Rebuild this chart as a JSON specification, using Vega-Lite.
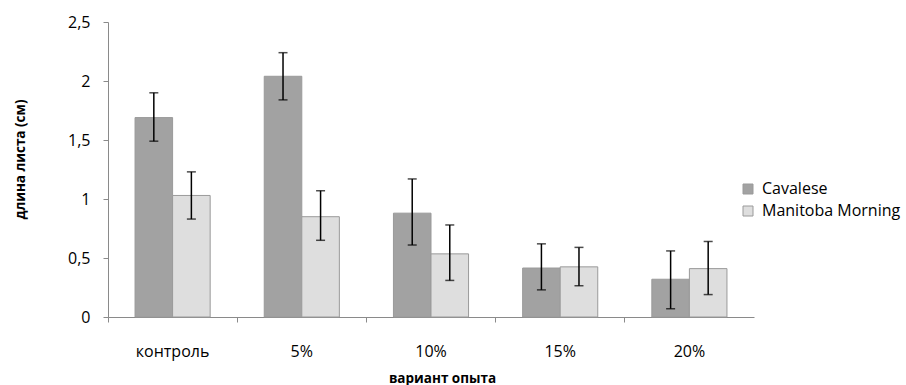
{
  "$schema": "https://vega.github.io/schema/vega-lite/v6.json",
  "width": 646,
  "height": 295,
  "autosize": {"type": "none"},
  "padding": {"left": 108, "top": 22, "right": 152, "bottom": 68},
  "background": "white",
  "config": {
    "view": {"stroke": null},
    "font": "Open Sans",
    "axis": {"labelFont": "Open Sans", "titleFont": "Open Sans", "labelColor": "#000000", "titleColor": "#000000", "domainColor": "#8a8a8a", "tickColor": "#8a8a8a", "grid": false}
  },
  "data": {
    "values": [
      {"variant": "контроль", "cultivar": "Cavalese", "mean": 1.69, "lower": 1.49, "upper": 1.9},
      {"variant": "контроль", "cultivar": "Manitoba Morning", "mean": 1.03, "lower": 0.83, "upper": 1.23},
      {"variant": "5%", "cultivar": "Cavalese", "mean": 2.04, "lower": 1.84, "upper": 2.24},
      {"variant": "5%", "cultivar": "Manitoba Morning", "mean": 0.85, "lower": 0.65, "upper": 1.07},
      {"variant": "10%", "cultivar": "Cavalese", "mean": 0.88, "lower": 0.61, "upper": 1.17},
      {"variant": "10%", "cultivar": "Manitoba Morning", "mean": 0.535, "lower": 0.31, "upper": 0.78},
      {"variant": "15%", "cultivar": "Cavalese", "mean": 0.415, "lower": 0.23, "upper": 0.62},
      {"variant": "15%", "cultivar": "Manitoba Morning", "mean": 0.425, "lower": 0.265, "upper": 0.59},
      {"variant": "20%", "cultivar": "Cavalese", "mean": 0.32, "lower": 0.07, "upper": 0.56},
      {"variant": "20%", "cultivar": "Manitoba Morning", "mean": 0.41, "lower": 0.19, "upper": 0.64}
    ]
  },
  "encoding": {
    "x": {
      "field": "variant",
      "type": "nominal",
      "sort": ["контроль", "5%", "10%", "15%", "20%"],
      "scale": {"paddingInner": 0, "paddingOuter": 0},
      "axis": {
        "title": "вариант опыта",
        "titleFontSize": 13.5,
        "titleFontWeight": "bold",
        "titleBaseline": "middle",
        "titleX": 334,
        "titleY": 61,
        "labelAngle": 0,
        "labelFontSize": 16,
        "labelPadding": 21,
        "tickSize": 5,
        "bandPosition": 0
      }
    },
    "xOffset": {
      "field": "cultivar",
      "type": "nominal",
      "sort": ["Cavalese", "Manitoba Morning"],
      "scale": {"paddingOuter": 0.72, "paddingInner": 0}
    }
  },
  "layer": [
    {
      "mark": {"type": "bar", "stroke": "#9a9a9a", "strokeWidth": 1},
      "encoding": {
        "y": {
          "field": "mean",
          "type": "quantitative",
          "scale": {"domain": [0, 2.5], "nice": false},
          "axis": {
            "title": "длина листа (см)",
            "titleFontSize": 13.5,
            "titleFontWeight": "bold",
            "titleBaseline": "middle",
            "titleAlign": "center",
            "titleX": -88,
            "titleY": 137,
            "values": [0, 0.5, 1, 1.5, 2, 2.5],
            "labelExpr": "replace(format(datum.value, '~g'), '.', ',')",
            "labelFontSize": 16,
            "labelPadding": 13,
            "tickSize": 5
          }
        },
        "color": {
          "field": "cultivar",
          "type": "nominal",
          "scale": {"domain": ["Cavalese", "Manitoba Morning"], "range": ["#a2a2a2", "#dedede"]},
          "legend": {
            "orient": "none",
            "legendX": 632,
            "legendY": 159,
            "title": null,
            "symbolType": "square",
            "symbolSize": 100,
            "symbolStrokeColor": "#9a9a9a",
            "symbolStrokeWidth": 1,
            "labelFont": "Open Sans",
            "labelFontSize": 16,
            "labelColor": "#000000",
            "labelOffset": 6,
            "rowPadding": 6
          }
        }
      }
    },
    {
      "mark": {"type": "rule", "color": "#000000", "strokeWidth": 1.5},
      "encoding": {
        "y": {"field": "lower", "type": "quantitative"},
        "y2": {"field": "upper"}
      }
    },
    {
      "mark": {"type": "tick", "color": "#000000", "size": 9, "thickness": 1.5},
      "encoding": {"y": {"field": "lower", "type": "quantitative"}}
    },
    {
      "mark": {"type": "tick", "color": "#000000", "size": 9, "thickness": 1.5},
      "encoding": {"y": {"field": "upper", "type": "quantitative"}}
    }
  ]
}
